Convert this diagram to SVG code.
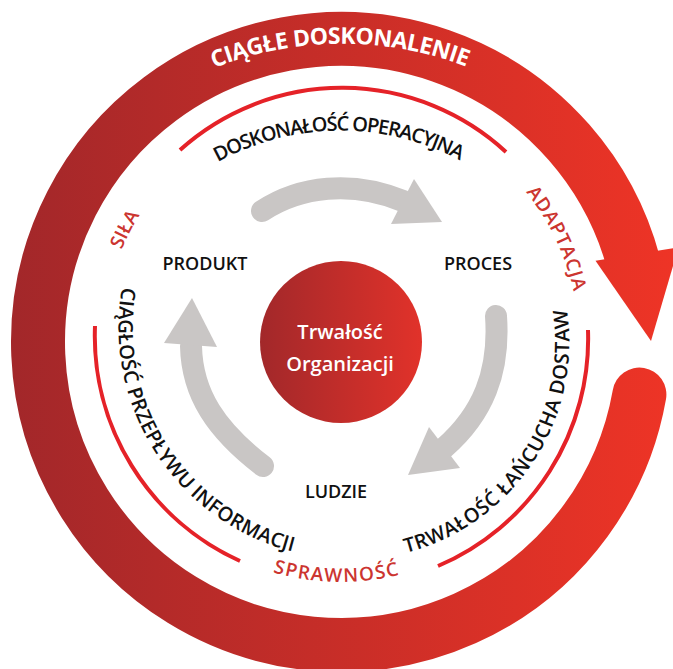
<svg xmlns="http://www.w3.org/2000/svg" width="673" height="669" viewBox="0 0 673 669">
<defs>
<linearGradient id="ringGrad" gradientUnits="userSpaceOnUse" x1="0" y1="0" x2="673" y2="0">
<stop offset="0" stop-color="#a1272a"/>
<stop offset="1" stop-color="#ee3426"/>
</linearGradient>
<linearGradient id="coreGrad" x1="0" y1="0" x2="1" y2="0">
<stop offset="0" stop-color="#a2282a"/>
<stop offset="1" stop-color="#e1322a"/>
</linearGradient>
<path id="pCiagle" d="M 214,68 A 350,350 0 0 1 470,68"/>
<path id="pDosk" d="M 218,162 A 255,255 0 0 1 463,162"/>
<path id="pSila" d="M 111.1,280.4 A 238,238 0 0 1 158.7,189"/>
<path id="pAdapt" d="M 525.9,192.2 A 238,238 0 0 1 573.8,292.5"/>
<path id="pSpraw" d="M 272.8,572.1 A 240,240 0 0 0 401.1,574.3"/>
<path id="pTrw" d="M 406,553 A 218,218 0 0 0 566,304"/>
<path id="pCiag" d="M 122,287 A 232,232 0 0 0 298,553"/>
</defs>
<style>
.ring{fill:none;stroke:url(#ringGrad);stroke-width:54;stroke-linecap:round}
.arc{fill:none;stroke:#e52228;stroke-width:4}
.grey{fill:none;stroke:#c9c6c5;stroke-width:22;stroke-linecap:round}
.head{fill:#c9c6c5}
.lbl{font-family:"Open Sans","Liberation Sans",sans-serif;font-weight:600;font-size:18px;fill:#111;text-anchor:middle}
.arct{font-family:"Open Sans","Liberation Sans",sans-serif;font-weight:600;font-size:20px;fill:#111}
.red{font-family:"Open Sans","Liberation Sans",sans-serif;font-weight:600;font-size:19px;fill:#cc3530}
.white{font-family:"Open Sans","Liberation Sans",sans-serif;font-weight:700;font-size:23px;fill:#fff}
.core{font-family:"Open Sans","Liberation Sans",sans-serif;font-weight:600;font-size:20px;fill:#fff;text-anchor:middle}
</style>

<g id="ring-ciagle-doskonalenie">
<path class="ring" d="M 639.4,394.6 A 303,303 0 1 1 633.7,263.6"/>
<polygon points="595.5,260.7 678.5,247.3 651,341" fill="url(#ringGrad)"/>
<text class="white"><textPath href="#pCiagle" textLength="258" lengthAdjust="spacing">CIĄGŁE DOSKONALENIE</textPath></text>
</g>

<g id="thin-arcs">
<path class="arc" d="M 180,150 A 242,242 0 0 1 506,152"/>
<path class="arc" d="M 95,326 A 247,247 0 0 0 240,561"/>
<path class="arc" d="M 588,330 A 247,247 0 0 1 438,566"/>
</g>

<g id="arc-labels">
<text class="arct"><textPath href="#pDosk" textLength="252" lengthAdjust="spacing">DOSKONAŁOŚĆ OPERACYJNA</textPath></text>
<text class="arct"><textPath href="#pTrw" textLength="320" lengthAdjust="spacing">TRWAŁOŚĆ ŁAŃCUCHA DOSTAW</textPath></text>
<text class="arct"><textPath href="#pCiag" textLength="346" lengthAdjust="spacing">CIĄGŁOŚĆ PRZEPŁYWU INFORMACJI</textPath></text>
<text class="red"><textPath href="#pSila" startOffset="50%" text-anchor="middle">SIŁA</textPath></text>
<text class="red"><textPath href="#pAdapt" textLength="111" lengthAdjust="spacing">ADAPTACJA</textPath></text>
<text class="red"><textPath href="#pSpraw" textLength="128" lengthAdjust="spacing">SPRAWNOŚĆ</textPath></text>
</g>

<g id="connectors">
<path class="grey" d="M 262,211 C 300,186 352,180 403,201"/>
<polygon class="head" points="414,179 442,222 391,224"/>
<path class="grey" d="M 496,316 C 500,372 483,414 444,448"/>
<polygon class="head" points="429,427 460,468 408,475"/>
<path class="grey" d="M 263,466 C 216,430 192,394 191,346"/>
<polygon class="head" points="164,343 217,347 192,298"/>
</g>

<g id="node-core">
<circle cx="341" cy="342" r="81" fill="url(#coreGrad)"/>
<text class="core" x="340" y="339">Trwałość</text>
<text class="core" x="340" y="371">Organizacji</text>
</g>
<g id="node-produkt"><text class="lbl" x="205" y="270">PRODUKT</text></g>
<g id="node-proces"><text class="lbl" x="478" y="270">PROCES</text></g>
<g id="node-ludzie"><text class="lbl" x="336" y="498">LUDZIE</text></g>
</svg>
